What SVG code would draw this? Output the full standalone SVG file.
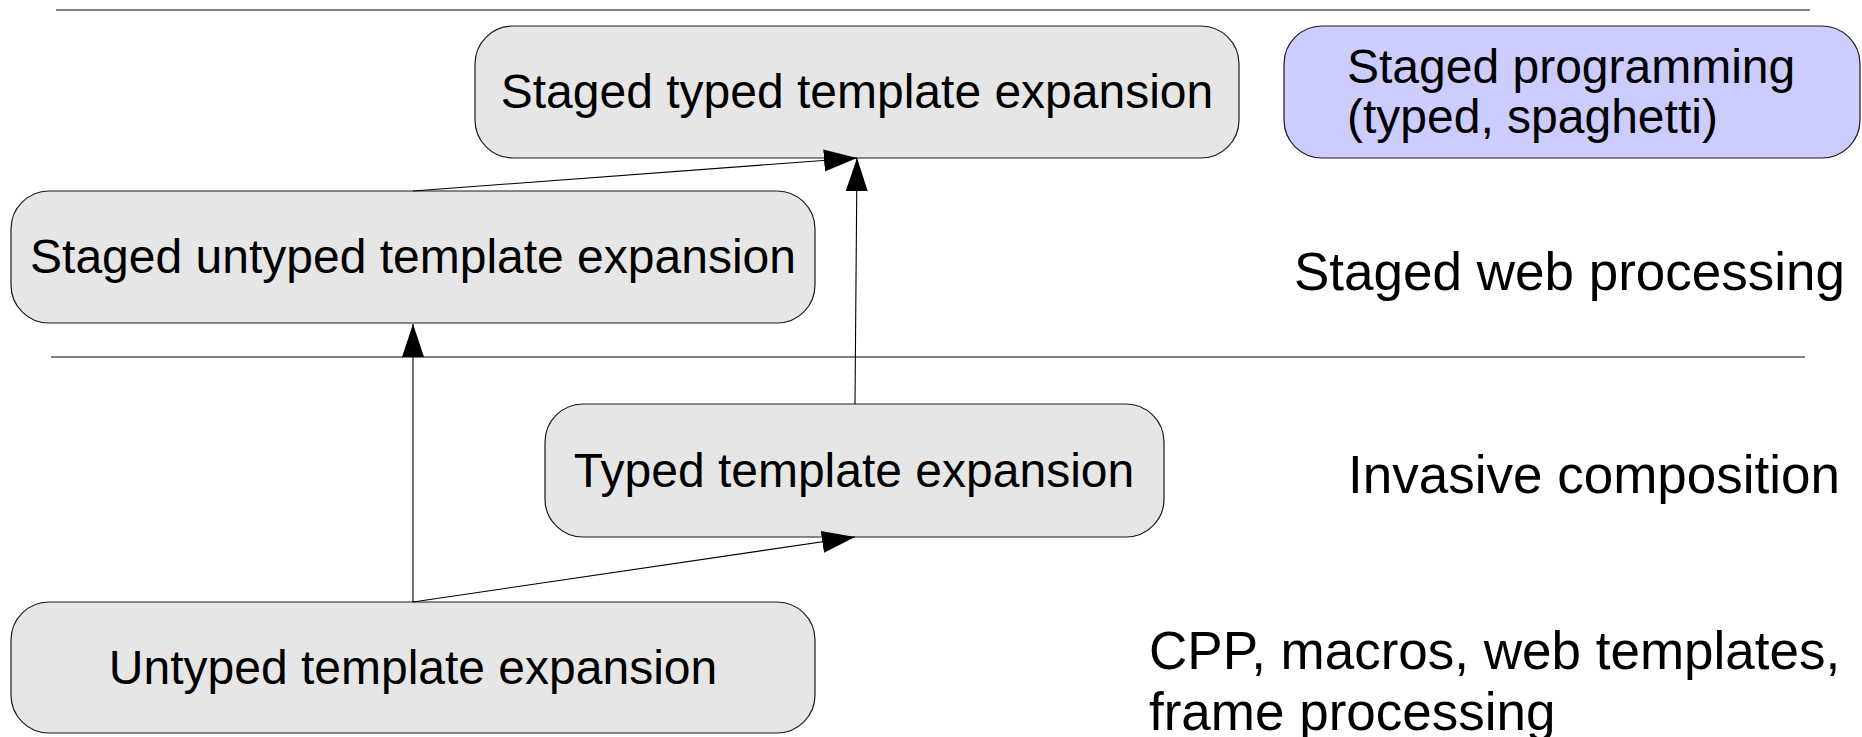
<svg xmlns="http://www.w3.org/2000/svg" width="1862" height="737" viewBox="0 0 1862 737">
  <style>
    .box { fill: #e6e6e6; stroke: #1a1a1a; stroke-width: 1.2; }
    .box.blue { fill: #ccccff; }
    .t { font-family: "Liberation Sans", Arial, sans-serif; font-size: 48px; fill: #000; }
    .mid { text-anchor: middle; }
    .lbl { font-family: "Liberation Sans", Arial, sans-serif; font-size: 53px; fill: #000; }
    .edge { stroke: #000; stroke-width: 1.1; fill: none; marker-end: url(#arrow); }
  </style>
  <defs>
    <marker id="arrow" markerUnits="userSpaceOnUse" markerWidth="34" markerHeight="23" refX="33" refY="11" orient="auto">
      <path d="M0,0 L33,11 L0,22 Z" fill="#000"/>
    </marker>
  </defs>

  <rect width="1862" height="737" fill="#fff"/>

  <!-- layer separators -->
  <g id="separators">
    <line x1="56" y1="10" x2="1810" y2="10" stroke="#808080" stroke-width="2"/>
    <line x1="51" y1="357" x2="1805" y2="357" stroke="#000" stroke-width="1.2"/>
  </g>

  <g id="node-staged-typed">
    <rect class="box" x="475" y="26" width="764" height="132" rx="38" ry="38"/>
    <text class="t mid" x="857" y="108">Staged typed template expansion</text>
  </g>

  <g id="node-staged-programming">
    <rect class="box blue" x="1284" y="26" width="576" height="132" rx="38" ry="38"/>
    <text class="t" x="1347" y="83">Staged programming</text>
    <text class="t" x="1347" y="133">(typed, spaghetti)</text>
  </g>

  <g id="node-staged-untyped">
    <rect class="box" x="11" y="191" width="804" height="132" rx="38" ry="38"/>
    <text class="t mid" x="413" y="273">Staged untyped template expansion</text>
  </g>

  <g id="node-typed">
    <rect class="box" x="545" y="404" width="619" height="133" rx="38" ry="38"/>
    <text class="t mid" x="854" y="487">Typed template expansion</text>
  </g>

  <g id="node-untyped">
    <rect class="box" x="11" y="602" width="804" height="131" rx="38" ry="38"/>
    <text class="t mid" x="413" y="684">Untyped template expansion</text>
  </g>

  <!-- layer labels -->
  <g id="labels">
    <text class="lbl" x="1294" y="290">Staged web processing</text>
    <text class="lbl" x="1348" y="493">Invasive composition</text>
    <text class="lbl" x="1149" y="669">CPP, macros, web templates,</text>
    <text class="lbl" x="1149" y="730">frame processing</text>
  </g>

  <g id="connectors">
    <line class="edge" x1="413" y1="602" x2="413" y2="324"/>
    <line class="edge" x1="413" y1="602" x2="855" y2="537"/>
    <line class="edge" x1="855" y1="404" x2="857" y2="158"/>
    <line class="edge" x1="413" y1="191" x2="857" y2="158"/>
  </g>
</svg>
